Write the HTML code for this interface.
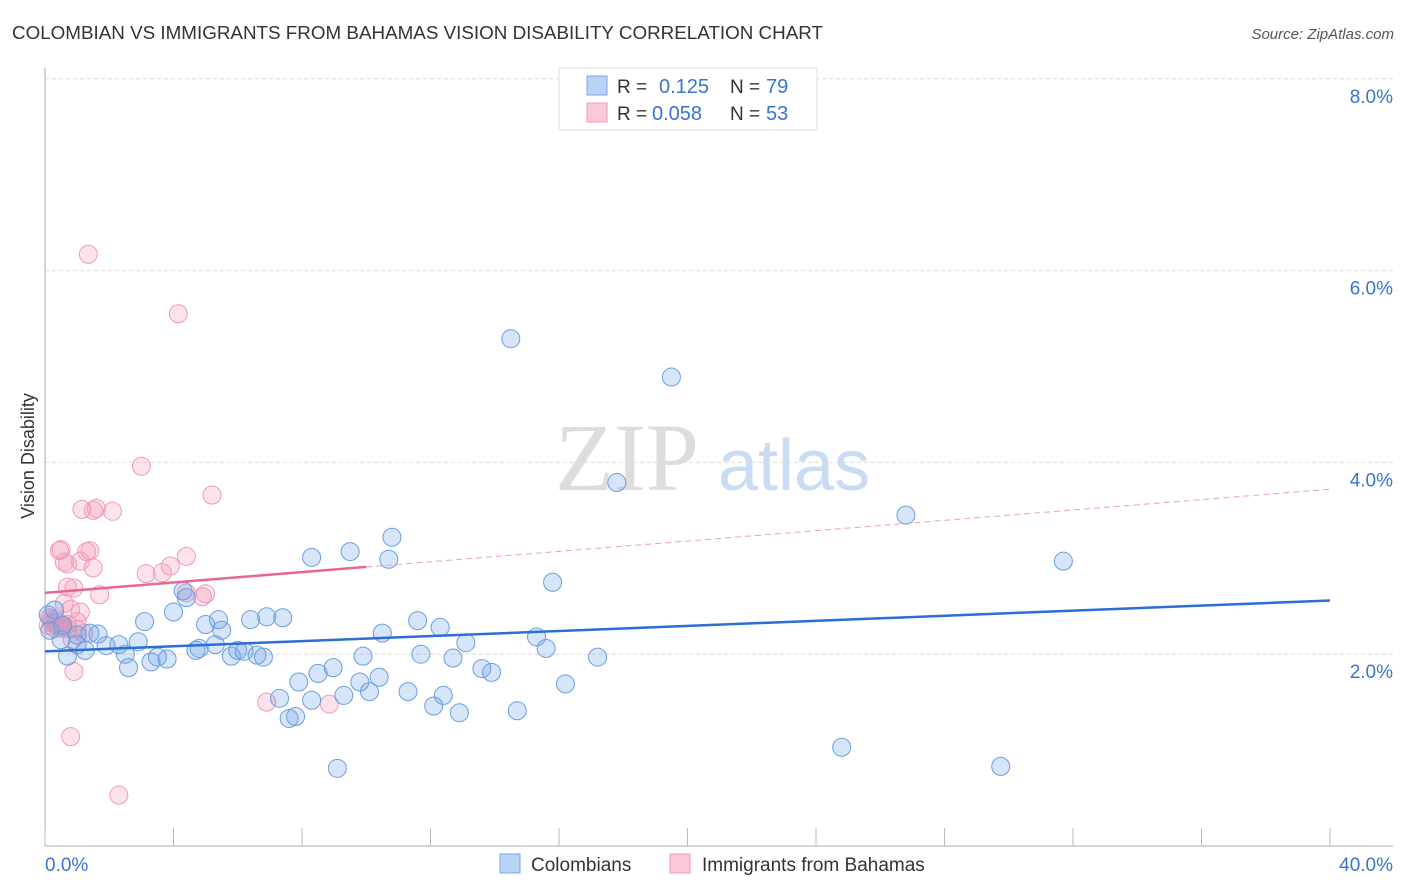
<!DOCTYPE html>
<html><head><meta charset="utf-8"><style>
body{margin:0;background:#fff;font-family:"Liberation Sans",sans-serif;}
svg{display:block}
</style></head><body>
<svg id="chart" width="1406" height="892">
<text x="12" y="39" font-size="18" fill="#333" textLength="811" lengthAdjust="spacingAndGlyphs">COLOMBIAN VS IMMIGRANTS FROM BAHAMAS VISION DISABILITY CORRELATION CHART</text>
<text x="1394" y="39" font-size="15" fill="#555" font-style="italic" text-anchor="end">Source: ZipAtlas.com</text>
<text x="34" y="456" font-size="18" fill="#333" transform="rotate(-90 34 456)" text-anchor="middle">Vision Disability</text>
<text x="555" y="490" font-size="96" fill="#ddd" font-family="Liberation Serif,serif">ZIP</text>
<text x="718" y="490" font-size="72" fill="#c9dcf3">atlas</text>
<g id="grid"></g>
<g id="axes"></g>
<g id="pink"></g>
<g id="blue"></g>
<g id="trends"></g>
<g>
<rect x="559" y="68" width="258" height="62" fill="#fff" stroke="#ddd"/>
<rect x="587" y="76" width="20" height="19" fill="#b9d3f5" stroke="#7aa7e6"/>
<rect x="587" y="103" width="20" height="19" fill="#fbc9d8" stroke="#f09ab5"/>
<text x="617" y="93" font-size="19" fill="#333">R = </text><text x="659" y="93" font-size="20" fill="#3a73d1">0.125</text>
<text x="730" y="93" font-size="19" fill="#333">N = </text><text x="766" y="93" font-size="20" fill="#3a73d1">79</text>
<text x="617" y="120" font-size="19" fill="#333">R = </text><text x="652" y="120" font-size="20" fill="#3a73d1">0.058</text>
<text x="730" y="120" font-size="19" fill="#333">N = </text><text x="766" y="120" font-size="20" fill="#3a73d1">53</text>
</g>
<g>
<rect x="500" y="854" width="20" height="19" fill="#b9d3f5" stroke="#7aa7e6"/>
<text x="531" y="871" font-size="19" fill="#333">Colombians</text>
<rect x="670" y="854" width="20" height="19" fill="#fbc9d8" stroke="#f09ab5"/>
<text x="702" y="871" font-size="19" fill="#333">Immigrants from Bahamas</text>
</g>
</svg>
<script>
const yTicks=[2,4,6,8];
const xTickLabels=["0.0%","40.0%"];
const blueX=[14.5,19.5,17.8,26.8,31.7,10.8,9.5,8.3,10.7,15.8,4.3,4.4,3.1,4.0,5.4,6.4,6.9,7.4,5.0,5.5,11.6,12.3,10.5,15.3,13.1,15.6,17.2,11.7,12.7,9.9,13.6,13.9,8.97,8.5,7.9,9.8,10.4,16.2,9.3,10.1,11.3,12.4,7.3,8.3,12.1,12.9,14.7,7.6,7.8,24.8,29.75,9.1,0.3,0.15,0.5,0.7,1.0,1.4,1.65,1.9,2.3,2.5,2.6,2.9,3.3,3.5,3.8,4.7,4.8,5.3,5.8,6.0,6.2,6.6,6.8,1.0,1.25,0.55,0.1];
const blueY=[5.29,4.89,3.79,3.45,2.97,3.22,3.07,3.01,2.99,2.75,2.66,2.59,2.34,2.44,2.36,2.36,2.39,2.38,2.31,2.25,2.35,2.28,2.22,2.18,2.12,2.06,1.97,2.0,1.96,1.98,1.85,1.81,1.86,1.80,1.71,1.71,1.76,1.69,1.57,1.61,1.61,1.57,1.54,1.52,1.46,1.39,1.41,1.33,1.35,1.03,0.83,0.81,2.46,2.25,2.15,1.98,2.10,2.22,2.21,2.09,2.10,2.0,1.86,2.13,1.92,1.97,1.95,2.04,2.06,2.10,1.98,2.04,2.03,1.99,1.97,2.2,2.04,2.3,2.41];
const pinkX=[1.35,4.15,3.0,5.2,1.15,1.6,1.5,2.1,0.45,0.5,1.3,1.4,4.4,0.6,0.7,1.1,1.5,3.9,3.15,3.65,0.7,0.9,1.7,5.0,4.9,4.4,0.6,0.8,1.1,0.2,0.4,0.5,0.3,0.7,1.0,1.0,1.2,0.85,0.9,6.9,8.85,0.8,2.3,0.15,0.1,0.3,0.5,0.6,0.2,0.4,0.7,0.3,0.5];
const pinkY=[6.17,5.55,3.96,3.66,3.51,3.52,3.5,3.49,3.08,3.09,3.07,3.08,3.02,2.96,2.94,2.97,2.9,2.92,2.84,2.85,2.7,2.69,2.62,2.63,2.6,2.64,2.53,2.47,2.44,2.36,2.34,2.31,2.27,2.27,2.34,2.26,2.22,2.15,1.82,1.5,1.48,1.14,0.53,2.38,2.3,2.32,2.3,2.28,2.33,2.29,2.31,2.35,2.27];
const blueTrend=[2.03,2.56];
const pinkTrend=[2.64,3.72];
const X=v=>45+v*32.125, Y=v=>846-v*95.9;
const NS="http://www.w3.org/2000/svg";
function mk(tag,parent,attrs){const e=document.createElementNS(NS,tag);for(const k in attrs)e.setAttribute(k,attrs[k]);document.getElementById(parent).appendChild(e);return e;}
yTicks.forEach(t=>{
 const l=mk('line','grid',{x1:45,x2:1393,y1:Y(t),y2:Y(t),stroke:'#ddd','stroke-dasharray':'4,3'});
 
 
 const tx=mk('text','grid',{x:1393,y:Y(t)+24,'font-size':19,fill:'#3a73d1','text-anchor':'end'});
 tx.textContent=t.toFixed(1)+'%';
 
 
});
mk('line','axes',{x1:45,x2:45,y1:68,y2:846,stroke:'#aaa'});
mk('line','axes',{x1:45,x2:1393,y1:846,y2:846,stroke:'#aaa'});
for(let i=0;i<=10;i++){mk('line','axes',{x1:X(i*4),x2:X(i*4),y1:828,y2:846,stroke:'#bbb'});}
const xl0=mk('text','axes',{x:45,y:871,'font-size':19,fill:'#3a73d1'});xl0.textContent=xTickLabels[0];


const xl1=mk('text','axes',{x:1393,y:871,'font-size':19,fill:'#3a73d1','text-anchor':'end'});xl1.textContent=xTickLabels[1];


pinkX.forEach((x,i)=>{const c=mk('circle','pink',{cx:X(x),cy:Y(pinkY[i]),r:9,fill:'rgba(244,150,180,0.28)',stroke:'#ef9ab6','stroke-width':1});
 
 });
blueX.forEach((x,i)=>{const c=mk('circle','blue',{cx:X(x),cy:Y(blueY[i]),r:9,fill:'rgba(110,160,230,0.28)',stroke:'#6a9de2','stroke-width':1});
 
 });
const bt=mk('line','trends',{x1:X(0),y1:Y(blueTrend[0]),x2:X(40),y2:Y(blueTrend[1]),stroke:'#2a6fd6','stroke-width':2.5});


const py=x=>pinkTrend[0]+(pinkTrend[1]-pinkTrend[0])*x/40;
const pt=mk('line','trends',{x1:X(0),y1:Y(py(0)),x2:X(10),y2:Y(py(10)),stroke:'#e8668f','stroke-width':2.5});


const pd=mk('line','trends',{x1:X(10),y1:Y(py(10)),x2:X(40),y2:Y(py(40)),stroke:'#e8a0b8','stroke-width':1,'stroke-dasharray':'6,4'});


</script>
</body></html>
